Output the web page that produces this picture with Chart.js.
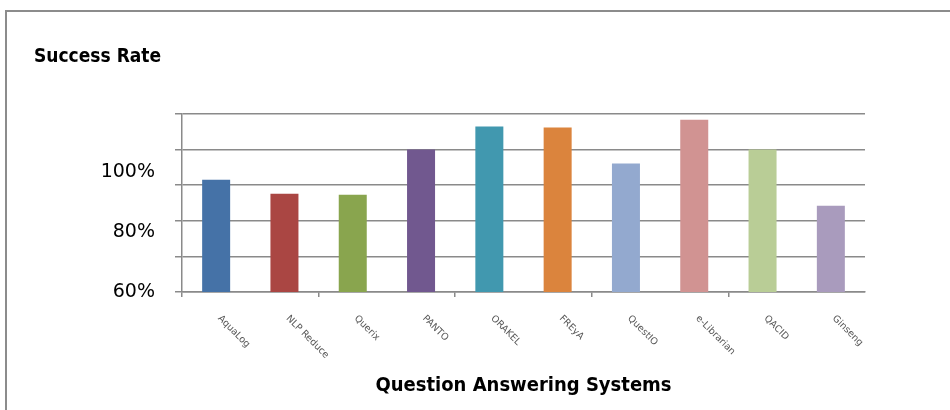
<!DOCTYPE html>
<html>
<head>
<meta charset="utf-8">
<script src="https://cdn.jsdelivr.net/npm/chart.js@4/dist/chart.umd.min.js"></script>
<style>
  body { margin: 0; background: #fff; overflow: hidden; }
  #frame { position: absolute; left: 5px; top: 10px; width: 1000px; height: 500px;
           border-left: 2px solid #8c8c8c; border-top: 2px solid #8c8c8c; }
  #successChart { position: absolute; left: 0; top: 0; }
</style>
</head>
<body>
<div id="frame"></div>
<canvas id="successChart" width="950" height="410"></canvas>
<script>
// data
var systems = ['AquaLog', 'NLP Reduce', 'Querix', 'PANTO', 'ORAKEL',
               'FREyA', 'QuestIO', 'e-Librarian', 'QACID', 'Ginseng'];
var successRate = [97.3, 92.7, 92.3, 107.4, 115, 114.7, 102.7, 117.3, 107.4, 88.7];
var barColors = ['#4572A7', '#AA4643', '#89A54E', '#71588F', '#4198AF',
                 '#DB843D', '#93A9CF', '#D19392', '#B9CD96', '#A99BBD'];
var yLabelValues = [60, 80, 100];
var gridValues = [60, 71.85, 83.7, 95.55, 107.4, 119.25];

var gridGrey = '#8a8a8a';

// the x labels run downwards to the right, so they are drawn here
var rotatedLabels = {
    id: 'rotatedLabels',
    afterDraw: function (chart) {
        var xs = chart.scales.x;
        var ctx = chart.ctx;
        ctx.save();
        ctx.font = '9.5px "DejaVu Sans"';
        ctx.fillStyle = '#555';
        ctx.textAlign = 'left';
        ctx.textBaseline = 'middle';
        systems.forEach(function (name, i) {
            ctx.save();
            ctx.translate(xs.getPixelForTick(i) + 3, xs.top + 25);
            ctx.rotate(Math.PI / 4);
            ctx.fillText(name, 0, 0);
            ctx.restore();
        });
        ctx.restore();
    }
};

var ctx = document.getElementById('successChart').getContext('2d');
var chart = new Chart(ctx, {
    type: 'bar',
    data: {
        labels: systems,
        datasets: [{
            data: successRate,
            backgroundColor: barColors,
            borderWidth: 0,
            barPercentage: 0.41,
            categoryPercentage: 1,
            yAxisID: 'y'
        }]
    },
    options: {
        responsive: false,
        animation: false,
        layout: { padding: { left: 34, right: 85, top: 0, bottom: 0 } },
        plugins: {
            legend: { display: false },
            tooltip: { enabled: false },
            title: {
                display: true,
                text: 'Success Rate',
                align: 'start',
                color: '#000',
                font: { family: '"DejaVu Sans Condensed"', size: 19, weight: 'bold' },
                padding: { top: 46, bottom: 45 }
            }
        },
        scales: {
            x: {
                offset: true,
                grid: {
                    offset: true,
                    drawOnChartArea: false,
                    drawTicks: true,
                    tickLength: 5,
                    lineWidth: 1.5,
                    tickColor: function (c) { return c.index % 2 === 0 ? gridGrey : 'rgba(0,0,0,0)'; }
                },
                border: { color: gridGrey, width: 1.5 },
                ticks: { display: false },
                title: {
                    display: true,
                    text: 'Question Answering Systems',
                    color: '#000',
                    font: { family: '"DejaVu Sans Condensed"', size: 20, weight: 'bold' },
                    padding: { top: 12, bottom: 12 }
                },
                afterFit: function (scale) { scale.height = 118; }
            },
            y: {
                position: 'left',
                weight: 0,
                min: 60,
                max: 119.25,
                afterBuildTicks: function (scale) {
                    scale.ticks = gridValues.map(function (v) { return { value: v }; });
                },
                ticks: { display: false },
                grid: { color: gridGrey, lineWidth: 1.5, tickLength: 7, drawTicks: true },
                border: { color: gridGrey, width: 1.5 },
                afterFit: function (scale) { scale.width = 7; }
            },
            yl: {
                position: 'left',
                weight: 1,
                min: 60,
                max: 119.25,
                afterBuildTicks: function (scale) {
                    scale.ticks = yLabelValues.map(function (v) { return { value: v }; });
                },
                ticks: {
                    padding: 20,
                    color: '#000',
                    font: { family: '"DejaVu Sans"', size: 19 },
                    callback: function (v) { return v + '%'; }
                },
                grid: { display: false, drawTicks: false },
                border: { display: false },
                afterFit: function (scale) { scale.width = 141; }
            }
        }
    },
    plugins: [rotatedLabels]
});
</script>
</body>
</html>
